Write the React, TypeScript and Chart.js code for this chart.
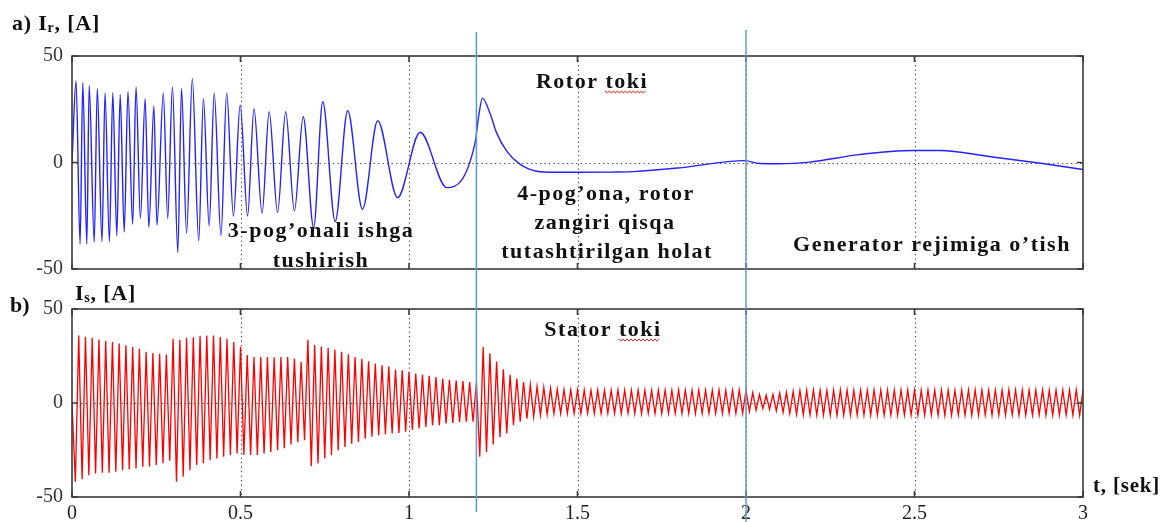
import React, { useEffect, useRef } from "react";
import { Chart, registerables } from "chart.js";
Chart.register(...registerables);

// ---------------- DATA ----------------
// Rotor current I_r [A]: extrema / sample points
const rotorTime = [
  0, 0.012, 0.024, 0.032, 0.044, 0.051, 0.066, 0.075, 0.089, 0.098, 0.111, 0.121, 0.133, 0.143, 0.155,
  0.166, 0.18, 0.19, 0.203, 0.217, 0.228, 0.243, 0.252, 0.271, 0.284, 0.298, 0.314, 0.325, 0.34, 0.357,
  0.376, 0.39, 0.407, 0.422, 0.442, 0.459, 0.479, 0.499, 0.521, 0.54, 0.564, 0.585, 0.61, 0.634, 0.66,
  0.686, 0.717, 0.744, 0.781, 0.818, 0.862, 0.907, 0.966, 1.033, 1.112, 1.196, 1.207, 1.218, 1.24, 1.26,
  1.29, 1.33, 1.379, 1.43, 1.5, 1.6, 1.666, 1.804, 1.997, 2.04, 2.1, 2.188, 2.336, 2.495, 2.574,
  2.732, 2.88, 3.0,
];
const rotorCurrent = [
  0, 38.3, -38.3, 37.5, -38.3, 36, -37.5, 34.6, -37.2, 32.7, -37.2, 32.7, -34.4, 31.8, -32.6,
  33.2, -29, 35.5, -26.3, 30, -30.5, 26.6, -29.4, 32.7, -26.3, 35.5, -42.2, 34.6, -33.2, 39.3,
  -36.8, 30, -29.8, 32.7, -34.4, 32.7, -25.1, 27, -25.1, 25.2, -23.8, 23.8, -23.5, 23.8, -22.7,
  21.5, -30.5, 28.5, -27.7, 24.3, -22, 19.6, -16.5, 14.2, -11.8, 9.2, 22.0, 30.2, 23.2, 13.9,
  5.3, -0.9, -4.1, -4.6, -4.6, -4.5, -4.3, -2.5, 0.9, -0.5, -0.6, 0.2, 3.7, 5.6, 5.6,
  2.6, -0.5, -3.3,
];

// Stator current I_s [A]: one positive and one negative extreme per 50 Hz cycle (0.02 s)
const statorCycle = 0.02;
const statorPeaks = [
  35.9, 35.2, 34.7, 33.8, 33.0, 32.4, 31.6, 30.7, 29.8, 28.9, 27.3, 26.6, 26.2, 25.8,
  34.1, 33.6, 34.6, 35.0, 35.8, 35.9, 35.9, 35.1, 34.2, 32.4, 29.9,
  25.5, 24.5, 24.4, 24.4, 24.3, 24.4, 24.4, 23.6, 21.8,
  33.6, 30.8, 30.1, 29.4, 28.4, 27.2, 25.9, 24.5, 23.5, 22.2, 21.0, 20.1, 19.4, 17.8, 17.4, 16.6,
  15.7, 15.2, 14.5, 13.8, 13.0, 12.4, 12.0, 11.7, 11.1,
  10.8,
  29.8, 26.5, 22.0, 18.0, 15.0, 13.0, 11.2, 9.8, 8.8, 8.3, 7.8, 7.3, 7.1,
  7.0, 6.9, 6.9, 6.8, 6.9, 6.8, 6.8, 6.9, 6.8, 6.8, 6.9, 6.8, 6.8, 6.9, 6.8, 6.8, 6.9, 6.8, 6.8,
  6.9, 6.8, 6.8, 6.9, 6.8, 6.8, 6.9, 6.8,
  5.5, 4.5, 4.1, 4.6, 5.2, 5.7, 6.2, 6.7,
  6.8, 6.9, 6.9, 6.8, 6.9, 7.0, 6.9, 6.8, 6.9, 6.9, 7.0, 6.9, 6.8, 6.9, 6.9, 7.0, 6.9, 6.8, 6.9,
  6.9, 7.0, 6.9, 6.8, 6.9, 6.9, 7.0, 6.9, 6.8, 6.9, 6.9, 7.0, 6.9, 6.8, 6.9, 6.9, 7.0, 6.9, 6.8,
  6.9, 6.9, 7.0, 6.9,
];
const statorTroughs = [
  -41.9, -40.6, -38.4, -37.5, -37.1, -37.1, -36.6, -35.7, -35.3, -34.8, -33.9, -33.8, -33.0, -32.1, -30.7,
  -41.9, -39.2, -35.7, -33.0, -32.1, -30.4, -29.5, -28.6, -27.7, -26.8, -27.6, -27.7, -27.7, -26.9, -26.1,
  -25.1, -24.0, -22.0, -20.9, -19.8,
  -33.6, -32.2, -29.5, -27.7, -25.2, -23.4, -21.6, -20.7, -19.0, -18.0, -17.2, -16.6, -16.2, -15.9, -15.3,
  -14.4, -13.6, -12.7, -11.9, -11.8, -10.9, -10.6, -10.1, -10.0, -10.0,
  -28.6, -26.0, -22.0, -18.2, -16.2, -11.8, -10.0, -8.3, -7.4, -6.5, -6.0, -5.7,
  -5.6, -5.5, -5.6, -5.6, -5.5, -5.6, -5.6, -5.5, -5.6, -5.6, -5.5, -5.6, -5.6, -5.5, -5.6, -5.6, -5.5,
  -5.6, -5.6, -5.5, -5.6, -5.6, -5.5, -5.6, -5.6, -5.5, -5.6, -5.6,
  -4.6, -3.9, -3.0, -3.4, -4.2, -5.0, -5.6, -6.0,
  -6.2, -6.3, -6.4, -6.3, -6.4, -6.5, -6.4, -6.3, -6.4, -6.5, -6.4, -6.3, -6.4, -6.5, -6.4, -6.3, -6.4,
  -6.5, -6.4, -6.3, -6.4, -6.5, -6.4, -6.3, -6.4, -6.5, -6.4, -6.3, -6.4, -6.5, -6.4, -6.3, -6.4, -6.5,
  -6.4, -6.3, -6.4, -6.5, -6.4, -6.3, -6.4, -6.5,
];

const xTicks = [0, 0.5, 1, 1.5, 2, 2.5, 3];
const yTicks = [-50, 0, 50];
const switchTimes = [1.2, 2.0];

// ---------------- STYLE ----------------
const SERIF = '"Liberation Serif", "Times New Roman", serif';
const FRAME = "#3a3a3a";
const GRID = "#444";
const SWITCH_COLOR = "#5b9bd5";
const W = 1176;

function rotorPoints() {
  const n = Math.min(rotorTime.length, rotorCurrent.length);
  const pts: { x: number; y: number }[] = [];
  for (let i = 0; i < n; i++) pts.push({ x: rotorTime[i], y: rotorCurrent[i] });
  return pts;
}

function statorPoints() {
  const pts: { x: number; y: number }[] = [{ x: 0, y: 0 }];
  const n = Math.min(statorPeaks.length, statorTroughs.length);
  for (let k = 0; k < n; k++) {
    pts.push({ x: +(statorCycle * (k + 0.5)).toFixed(4), y: statorTroughs[k] });
    pts.push({ x: +(statorCycle * (k + 1)).toFixed(4), y: statorPeaks[k] });
  }
  return pts;
}

type TextItem = { text: string; x: number; y: number; squiggle?: string };

function drawSquiggle(ctx: CanvasRenderingContext2D, x1: number, x2: number, y: number) {
  ctx.save();
  ctx.strokeStyle = "#e03030";
  ctx.lineWidth = 1;
  ctx.beginPath();
  let up = true;
  ctx.moveTo(x1, y);
  for (let x = x1; x <= x2; x += 2) {
    ctx.lineTo(x, up ? y - 1.2 : y + 1.2);
    up = !up;
  }
  ctx.stroke();
  ctx.restore();
}

function drawLabel(ctx: CanvasRenderingContext2D, t: TextItem) {
  ctx.save();
  ctx.font = `bold 22px ${SERIF}`;
  (ctx as any).letterSpacing = "1.5px";
  ctx.fillStyle = "#111";
  ctx.textAlign = "left";
  ctx.textBaseline = "middle";
  const w = ctx.measureText(t.text).width;
  const left = t.x - w / 2;
  ctx.fillText(t.text, left, t.y);
  if (t.squiggle) {
    const idx = t.text.indexOf(t.squiggle);
    const a = left + ctx.measureText(t.text.slice(0, idx)).width;
    const b = left + ctx.measureText(t.text.slice(0, idx + t.squiggle.length)).width;
    drawSquiggle(ctx, a, b - 1, t.y + 10);
  }
  ctx.restore();
}

function drawSubTitle(ctx: CanvasRenderingContext2D, x: number, y: number, pre: string, sub: string, post: string) {
  ctx.save();
  ctx.fillStyle = "#111";
  ctx.textBaseline = "alphabetic";
  ctx.textAlign = "left";
  (ctx as any).letterSpacing = "0.8px";
  ctx.font = `bold 22px ${SERIF}`;
  ctx.fillText(pre, x, y);
  let cx = x + ctx.measureText(pre).width;
  ctx.font = `bold 14px ${SERIF}`;
  ctx.fillText(sub, cx, y + 2);
  cx += ctx.measureText(sub).width;
  ctx.font = `bold 22px ${SERIF}`;
  ctx.fillText(post, cx, y);
  ctx.restore();
}

function makeDecor(opts: {
  texts: TextItem[];
  extra: (ctx: CanvasRenderingContext2D, chart: any) => void;
  lineRanges: [number, number][];
}) {
  return {
    id: "decor",
    beforeDatasetsDraw(chart: any) {
      const { ctx, chartArea: a, scales } = chart;
      const xs = scales.x, ys = scales.y;
      ctx.save();
      ctx.strokeStyle = GRID;
      ctx.lineWidth = 1.1;
      ctx.setLineDash([1.3, 3.2]);
      for (const v of xTicks) {
        if (v === 0 || v === 3) continue;
        const px = Math.round(xs.getPixelForValue(v)) + 0.5;
        ctx.beginPath();
        ctx.moveTo(px, a.top);
        ctx.lineTo(px, a.bottom);
        ctx.stroke();
      }
      const py = Math.round(ys.getPixelForValue(0)) + 0.5;
      ctx.beginPath();
      ctx.moveTo(a.left, py);
      ctx.lineTo(a.right, py);
      ctx.stroke();
      ctx.restore();
    },
    afterDatasetsDraw(chart: any) {
      const { ctx, chartArea: a, scales } = chart;
      const xs = scales.x, ys = scales.y;
      ctx.save();
      ctx.strokeStyle = FRAME;
      ctx.lineWidth = 1.6;
      ctx.strokeRect(a.left, a.top, a.right - a.left, a.bottom - a.top);
      for (const v of xTicks) {
        const px = xs.getPixelForValue(v);
        ctx.beginPath();
        ctx.moveTo(px, a.top);
        ctx.lineTo(px, a.top + 6);
        ctx.moveTo(px, a.bottom);
        ctx.lineTo(px, a.bottom - 6);
        ctx.stroke();
      }
      for (const v of yTicks) {
        const py = ys.getPixelForValue(v);
        ctx.beginPath();
        ctx.moveTo(a.left, py);
        ctx.lineTo(a.left + 6, py);
        ctx.moveTo(a.right, py);
        ctx.lineTo(a.right - 6, py);
        ctx.stroke();
      }
      ctx.strokeStyle = SWITCH_COLOR;
      ctx.lineWidth = 1.5;
      switchTimes.forEach((t, i) => {
        const px = xs.getPixelForValue(t);
        const [y1, y2] = opts.lineRanges[i];
        ctx.beginPath();
        ctx.moveTo(px, y1);
        ctx.lineTo(px, y2);
        ctx.stroke();
      });
      ctx.restore();
      for (const t of opts.texts) drawLabel(ctx, t);
      opts.extra(ctx, chart);
    },
  };
}

function baseOptions(showX: boolean, padTop: number, xHeight: number) {
  return {
    responsive: false,
    maintainAspectRatio: false,
    animation: false as const,
    events: [] as any[],
    layout: { padding: { left: 0, right: 93, top: padTop, bottom: 0 } },
    plugins: { legend: { display: false }, tooltip: { enabled: false } },
    elements: { point: { radius: 0 } },
    scales: {
      x: {
        type: "linear" as const,
        min: 0,
        max: 3,
        afterBuildTicks: (s: any) => {
          s.ticks = xTicks.map((v) => ({ value: v }));
        },
        afterFit: (s: any) => {
          s.height = xHeight;
        },
        grid: { display: false, drawTicks: false },
        border: { display: false },
        ticks: {
          display: showX,
          autoSkip: false,
          maxRotation: 0,
          padding: 5,
          color: "#222",
          font: { family: SERIF, size: 20 },
          callback: (v: any) => String(v),
        },
      },
      y: {
        type: "linear" as const,
        min: -50,
        max: 50,
        afterBuildTicks: (s: any) => {
          s.ticks = yTicks.map((v) => ({ value: v }));
        },
        afterFit: (s: any) => {
          s.width = 72;
        },
        grid: { display: false, drawTicks: false },
        border: { display: false },
        ticks: {
          padding: 9,
          color: "#333",
          font: { family: SERIF, size: 20 },
          callback: (v: any) => String(v),
        },
      },
    },
  };
}

const TOP_H = 290;
const BOT_TOP = 276;
const BOT_H = 522 - BOT_TOP;

export default function App() {
  const topRef = useRef<HTMLCanvasElement | null>(null);
  const botRef = useRef<HTMLCanvasElement | null>(null);

  useEffect(() => {
    document.body.style.margin = "0";
    document.body.style.background = "#fff";
    const topCtx = topRef.current!.getContext("2d")!;
    const botCtx = botRef.current!.getContext("2d")!;

    const topChart = new Chart(topCtx, {
      type: "line",
      data: {
        datasets: [
          {
            data: rotorPoints(),
            borderColor: "rgb(35,35,255)",
            borderWidth: 1.4,
            cubicInterpolationMode: "monotone",
            pointRadius: 0,
            fill: false,
          },
        ],
      },
      options: baseOptions(false, 56, TOP_H - 271) as any,
      plugins: [
        makeDecor({
          texts: [
            { text: "Rotor toki", x: 592, y: 82, squiggle: "toki" },
            { text: "3-pog\u2019onali ishga", x: 321, y: 231 },
            { text: "tushirish", x: 321, y: 261 },
            { text: "4-pog\u2019ona, rotor", x: 606, y: 194 },
            { text: "zangiri qisqa", x: 605, y: 223 },
            { text: "tutashtirilgan holat", x: 607, y: 252 },
            { text: "Generator rejimiga o\u2019tish", x: 932, y: 245 },
          ],
          lineRanges: [
            [32, TOP_H],
            [30, TOP_H],
          ],
          extra: (ctx) => {
            drawSubTitle(ctx, 12, 30, "a) I", "r", ", [A]");
          },
        }) as any,
      ],
    });

    const botChart = new Chart(botCtx, {
      type: "line",
      data: {
        datasets: [
          {
            data: statorPoints(),
            borderColor: "rgb(255,0,0)",
            borderWidth: 1.3,
            tension: 0,
            pointRadius: 0,
            fill: false,
          },
        ],
      },
      options: baseOptions(true, 309 - BOT_TOP, BOT_H - (497 - BOT_TOP)) as any,
      plugins: [
        makeDecor({
          texts: [{ text: "Stator toki", x: 603, y: 330 - BOT_TOP, squiggle: "toki" }],
          lineRanges: [
            [TOP_H - BOT_TOP, 512 - BOT_TOP],
            [TOP_H - BOT_TOP, BOT_H],
          ],
          extra: (ctx) => {
            ctx.save();
            ctx.fillStyle = "#111";
            ctx.font = `bold 22px ${SERIF}`;
            ctx.textBaseline = "alphabetic";
            ctx.fillText("b)", 10, 312 - BOT_TOP);
            ctx.restore();
            drawSubTitle(ctx, 75, 300 - BOT_TOP, "I", "s", ", [A]");
            ctx.save();
            ctx.fillStyle = "#111";
            ctx.font = `bold 21px ${SERIF}`;
            (ctx as any).letterSpacing = "0.8px";
            ctx.textBaseline = "middle";
            ctx.fillText("t, [sek]", 1093, 487 - BOT_TOP);
            ctx.restore();
          },
        }) as any,
      ],
    });

    return () => {
      topChart.destroy();
      botChart.destroy();
    };
  }, []);

  return (
    <div style={{ position: "relative", width: W, height: 522, background: "#fff", overflow: "hidden" }}>
      <canvas
        ref={topRef}
        width={W}
        height={TOP_H}
        style={{ position: "absolute", left: 0, top: 0, width: W, height: TOP_H }}
      />
      <canvas
        ref={botRef}
        width={W}
        height={BOT_H}
        style={{ position: "absolute", left: 0, top: BOT_TOP, width: W, height: BOT_H }}
      />
    </div>
  );
}
